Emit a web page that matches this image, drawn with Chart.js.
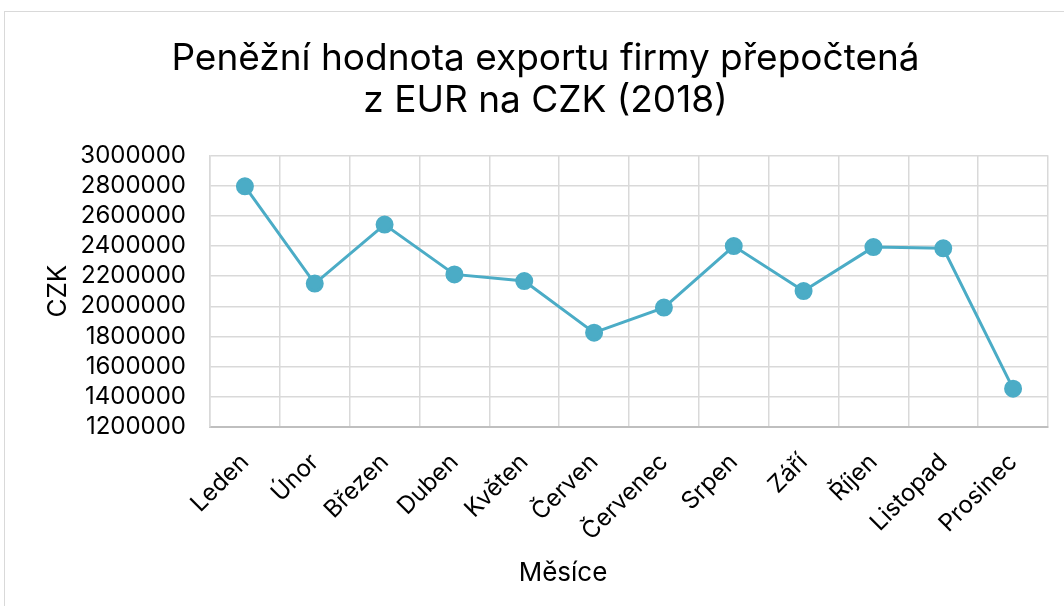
<!DOCTYPE html>
<html>
<head>
<meta charset="utf-8">
<script src="https://cdn.jsdelivr.net/npm/chart.js@4.4.1/dist/chart.umd.min.js"></script>
<style>
  html, body { margin: 0; padding: 0; background: #fff; overflow: hidden; }
  #frame { position: absolute; left: 4px; top: 11px; width: 1075px; height: 620px;
           border: 1px solid #d9d9d9; box-sizing: border-box; }
  #wrap { position: absolute; left: 0; top: 0; width: 1073px; height: 600px; }
</style>
</head>
<body>
<div id="frame"><div id="wrap"><canvas id="c"></canvas></div></div>
<script>
const months = ['Leden', 'Únor', 'Březen', 'Duben', 'Květen', 'Červen', 'Červenec', 'Srpen', 'Září', 'Říjen', 'Listopad', 'Prosinec'];
const exportCZK = [2795000, 2150000, 2541000, 2211000, 2167000, 1825000, 1991000, 2399000, 2101000, 2392000, 2384000, 1454000];
const titleLines = ['Peněžní hodnota exportu firmy přepočtená', 'z EUR na CZK (2018)'];
const yAxisTitle = 'CZK';
const xAxisTitle = 'Měsíce';
const yMin = 1200000, yMax = 3000000, yStep = 200000;

const FONT = 'Inter, "Noto Sans", sans-serif';

const xTitlePlugin = {
  id: 'xTitle',
  afterDraw(chart) {
    const ctx = chart.ctx;
    ctx.save();
    ctx.font = '26px ' + FONT;
    ctx.fillStyle = '#000';
    ctx.textAlign = 'center';
    ctx.textBaseline = 'middle';
    ctx.fillText(xAxisTitle, 558, 561);
    ctx.restore();
  }
};

new Chart(document.getElementById('c'), {
  type: 'line',
  data: {
    labels: months,
    datasets: [{
      data: exportCZK,
      borderColor: '#4bacc6',
      backgroundColor: '#4bacc6',
      borderWidth: 3,
      pointRadius: 7.5,
      pointHoverRadius: 7.5,
      pointBackgroundColor: '#4bacc6',
      pointBorderColor: '#4bacc6',
      tension: 0
    }]
  },
  options: {
    responsive: true,
    maintainAspectRatio: false,
    animation: false,
    layout: { padding: { left: 38, right: 30, bottom: 45 } },
    plugins: {
      legend: { display: false },
      tooltip: { enabled: false },
      title: {
        display: true,
        text: titleLines,
        color: '#000',
        font: { family: FONT, size: 37, weight: 'normal', lineHeight: 1.14 },
        padding: { top: 26, bottom: 33 }
      }
    },
    scales: {
      x: {
        offset: true,
        grid: { offset: true, color: '#d9d9d9', lineWidth: 1.5, drawTicks: false },
        border: { color: '#bfbfbf', width: 2 },
        ticks: {
          color: '#000',
          font: { family: FONT, size: 24 },
          maxRotation: 45, minRotation: 45,
          padding: 21,
          autoSkip: false
        },
        afterFit(axis) { axis.paddingLeft = 0; axis.paddingRight = 0; }
      },
      y: {
        min: yMin, max: yMax,
        grid: { color: '#d9d9d9', lineWidth: 1.5, drawTicks: false },
        border: { color: '#d9d9d9', width: 1.5 },
        ticks: {
          stepSize: yStep,
          autoSkip: false,
          color: '#000',
          font: { family: FONT, size: 24 },
          padding: 24,
          callback: v => String(v)
        },
        title: {
          display: true,
          text: yAxisTitle,
          color: '#000',
          font: { family: FONT, size: 26 },
          padding: { top: 0, bottom: 10 }
        },
        afterFit(axis) { axis.width = 167; }
      }
    }
  },
  plugins: [xTitlePlugin]
});
</script>
</body>
</html>
